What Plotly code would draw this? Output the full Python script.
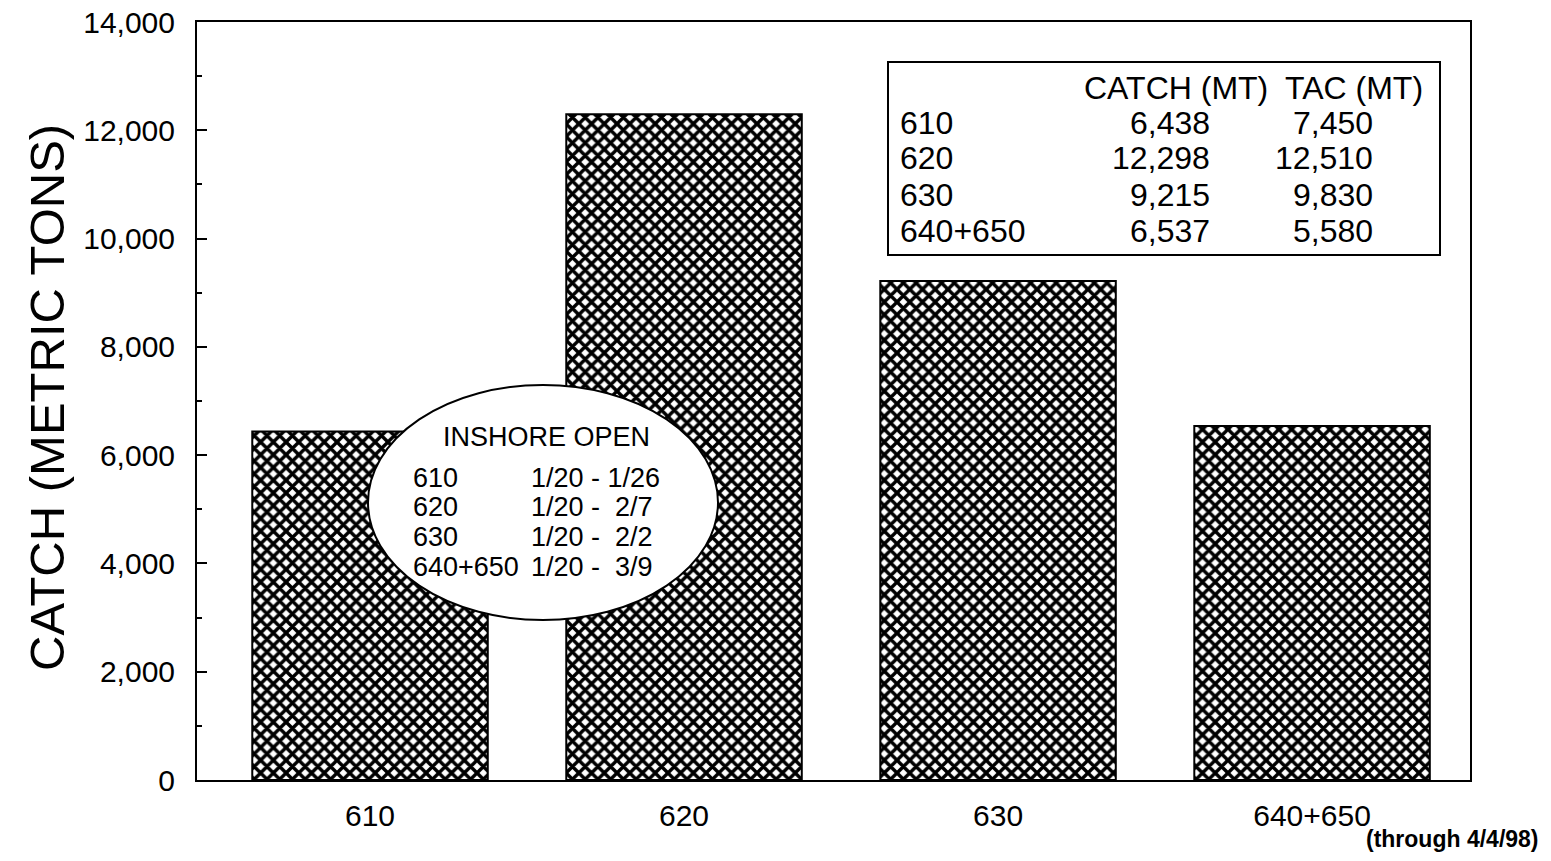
import plotly.graph_objects as go

# ---- data ----
areas = ["610", "620", "630", "640+650"]
catch_mt = [6438, 12298, 9215, 6537]
tac_mt = [7450, 12510, 9830, 5580]
inshore_open = ["1/20 - 1/26", "1/20 -  2/7", "1/20 -  2/2", "1/20 -  3/9"]
y_ticks = [0, 2000, 4000, 6000, 8000, 10000, 12000, 14000]

FONT = "Arial, Liberation Sans, sans-serif"
OFF = 8  # default page body margin
W, H = 1535, 845
# plot area in page coordinates
L, R, T, B = 197, 1470, 22, 780


def px(x):
    return (x - L) / (R - L)


def py(y):
    return (B - y) / (B - T)


fig = go.Figure()
fig.add_trace(go.Bar(
    x=list(range(len(areas))), y=catch_mt, width=0.75,
    marker=dict(color="white", line=dict(color="black", width=2),
                pattern=dict(shape="x", fgcolor="black", bgcolor="white",
                             fgopacity=1, size=9, solidity=0.62)),
    showlegend=False, hoverinfo="skip"))

fig.update_layout(
    width=W, height=H,
    margin=dict(l=L - OFF, r=W - (R - OFF), t=T - OFF, b=H - (B - OFF), pad=0,
                autoexpand=False),
    paper_bgcolor="white", plot_bgcolor="white",
    font=dict(family=FONT, color="black"),
    xaxis=dict(range=[-0.551, 3.503], tickmode="array",
               tickvals=list(range(len(areas))), ticktext=areas,
               ticks="", showgrid=False, zeroline=False, automargin=False,
               showline=True, linecolor="black", linewidth=2, mirror=True,
               tickfont=dict(size=30), ticklabelstandoff=8),
    yaxis=dict(range=[0, 14000], tickmode="array", tickvals=y_ticks,
               ticktext=[f"{v:,}" for v in y_ticks],
               ticks="inside", ticklen=10, tickcolor="black", tickwidth=1.5,
               minor=dict(ticks="inside", ticklen=5, dtick=1000, tickcolor="black"),
               showgrid=False, zeroline=False, automargin=False,
               showline=True, linecolor="black", linewidth=2, mirror=True,
               tickfont=dict(size=30), ticklabelstandoff=14,
               ticklabeloverflow="allow"),
)

shapes = []
shapes.append(dict(type="circle", xref="paper", yref="paper",
                   x0=px(368), x1=px(718), y0=py(620), y1=py(385),
                   fillcolor="white", line=dict(color="black", width=2), layer="above"))
shapes.append(dict(type="rect", xref="paper", yref="paper",
                   x0=px(888), x1=px(1440), y0=py(255), y1=py(62),
                   fillcolor="white", line=dict(color="black", width=2), layer="above"))
fig.update_layout(shapes=shapes)

ann = []


def add(text, x, y, size, xanchor="left", bold=False, angle=0, yanchor="middle"):
    ann.append(dict(text=f"<b>{text}</b>" if bold else text,
                    xref="paper", yref="paper", x=px(x), y=py(y),
                    xanchor=xanchor, yanchor=yanchor, showarrow=False,
                    textangle=angle, borderpad=0,
                    font=dict(size=size, family=FONT, color="black")))


# y-axis title
add("CATCH (METRIC TONS)", 47, 398, 49, xanchor="center", angle=-90)

# table
add("CATCH (MT)", 1083, 88, 32)
add("TAC (MT)", 1284, 88, 32)
row_y = [123, 158, 195, 231]
for a, c, t, y in zip(areas, catch_mt, tac_mt, row_y):
    add(a, 899, y, 32)
    add(f"{c:,}", 1211, y, 32, xanchor="right")
    add(f"{t:,}", 1374, y, 32, xanchor="right")

# ellipse text
add("INSHORE OPEN", 546, 437, 27, xanchor="center")
ell_y = [478, 507, 537, 567]
for a, d, y in zip(areas, inshore_open, ell_y):
    add(a, 412, y, 27)
    add(d.replace(" ", "&nbsp;"), 530, y, 27)

# footnote
add("(through 4/4/98)", 1540, 853, 23, xanchor="right", bold=True, yanchor="bottom")

fig.update_layout(annotations=ann)
fig.write_html("out.html")
